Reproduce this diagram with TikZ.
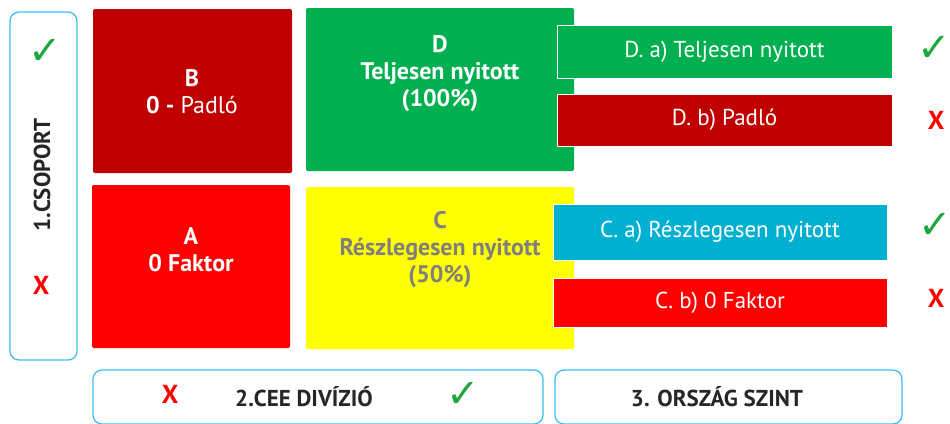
\documentclass[tikz,border=0pt]{standalone}
\usepackage{fontspec}
\setmainfont{PT Sans}
\newfontfamily\symfont{DejaVu Sans}
\definecolor{cDarkRed}{HTML}{C00000}
\definecolor{cRed}{HTML}{FF0000}
\definecolor{cGreen}{HTML}{00B050}
\definecolor{cYellow}{HTML}{FFFF00}
\definecolor{cBlue}{HTML}{00B0D0}
\definecolor{cGrey}{HTML}{7F7F7F}
\definecolor{cFrame}{HTML}{3DBDF2}
\definecolor{cCheck}{HTML}{1EA83C}
\begin{document}
\begin{tikzpicture}[x=1pt,y=-1pt,
  tile/.style={rounded corners=2pt, draw=none, inner sep=0pt},
  tiletext/.style={text=white, font=\bfseries\fontsize{24}{27}\selectfont, align=center},
  bar/.style={draw=white, line width=1pt, inner sep=0pt, text=white, font=\fontsize{23}{24}\selectfont},
  frame/.style={draw=cFrame, line width=1.3pt, rounded corners=9pt, fill=white, inner sep=0pt},
  chk/.style={text=cCheck, font=\symfont\bfseries\fontsize{40}{40}\selectfont},
  crs/.style={text=cRed, font=\bfseries\fontsize{26}{26}\selectfont},
  lbl/.style={text=black!85, font=\bfseries\fontsize{23}{24}\selectfont}]
\useasboundingbox (0,0) rectangle (950,423);

% frames
\node[frame, minimum width=67pt, minimum height=348pt] (g1) at (43.5,186) {};
\node[lbl, rotate=90] (g1t) at (42,175) {1.CSOPORT};
\node[chk] (g1c) at (45,52) {✓};
\node[crs] (g1x) at (41,285) {X};

\node[frame, minimum width=450pt, minimum height=54pt] (g2) at (318,397) {};
\node[lbl] (g2t) at (304,397) {2.CEE DIVÍZIÓ};
\node[crs] (g2x) at (170,394) {X};
\node[chk] (g2c) at (463,395) {✓};

\node[frame, minimum width=347pt, minimum height=54pt] (g3) at (728.5,397) {};
\node[lbl] (g3t) at (717,397) {3. ORSZÁG SZINT};

% tiles
\node[tile, fill=cDarkRed, minimum width=199pt, minimum height=164pt] (B) at (192.5,91) {};
\node[tiletext, text depth=0pt] (Bt) at (192,91) {B\\0 - \mdseries Padló};

\node[tile, fill=cRed, minimum width=198pt, minimum height=163pt] (A) at (191,266.5) {};
\node[tiletext] (At) at (191,250) {A\\0 Faktor};

\node[tile, fill=cGreen, minimum width=268pt, minimum height=163pt] (D) at (440,89.5) {};
\node[tiletext] (Dt) at (440,74) {D\\Teljesen nyitott\\(100\%)};

\node[tile, fill=cYellow, minimum width=268pt, minimum height=162pt] (C) at (440,268) {};
\node[tiletext, text=cGrey] (Ct) at (440,250) {C\\Részlegesen nyitott\\(50\%)};

% bars
\node[bar, fill=cGreen, minimum width=335pt, minimum height=53pt] (Da) at (724.5,51.5) {D. a) Teljesen nyitott};
\node[bar, fill=cDarkRed, minimum width=335pt, minimum height=52pt] (Db) at (724.5,120) {D. b) Padló};
\node[bar, fill=cBlue, minimum width=334pt, minimum height=56pt] (Ca) at (720,232) {C. a) Részlegesen nyitott};
\node[bar, fill=cRed, minimum width=334pt, minimum height=49pt] (Cb) at (720,302.5) {C. b) 0 Faktor};

\node[chk] (Dac) at (934,49) {✓};
\node[crs] (Dbx) at (936,120) {X};
\node[chk] (Cac) at (935,226) {✓};
\node[crs] (Cbx) at (936,298) {X};
\end{tikzpicture}
\end{document}
